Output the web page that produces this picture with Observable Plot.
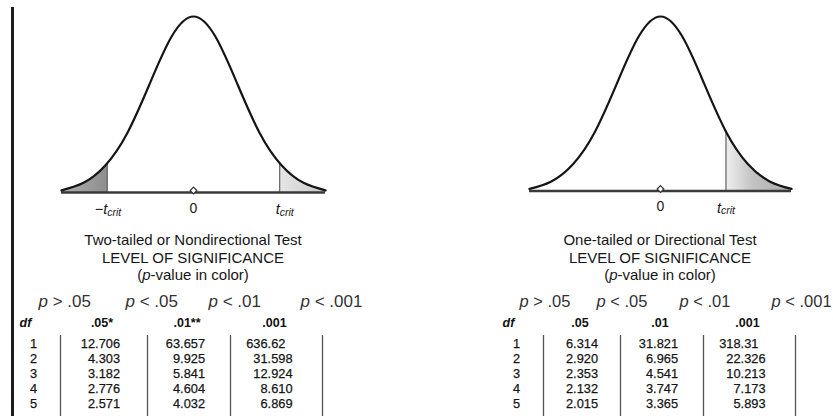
<!DOCTYPE html>
<html><head><meta charset="utf-8">
<script src="https://cdn.jsdelivr.net/npm/d3@7"></script>
<script src="https://cdn.jsdelivr.net/npm/@observablehq/plot@0.6"></script>
<style>
html,body{margin:0;padding:0;background:#fff;}
#page{position:relative;width:833px;height:416px;overflow:hidden;background:#fff;font-family:"Liberation Sans",Arial,sans-serif;}
.abs{position:absolute;}
.title{position:absolute;width:300px;text-align:center;font-size:15px;line-height:17.5px;color:#161616;}
#bar{position:absolute;left:11px;top:7px;width:3px;height:409px;background:#1c1c1c;}
</style></head><body>
<div id="page">
 <div id="bar"></div>
 <div id="curveL" class="abs" style="left:0;top:0"></div>
 <div id="curveR" class="abs" style="left:420px;top:0"></div>
 <div class="title" style="left:43px;top:231px">Two-tailed or Nondirectional Test<br>LEVEL OF SIGNIFICANCE<br>(<i>p</i>-value in color)</div>
 <div class="title" style="left:510px;top:231px">One-tailed or Directional Test<br>LEVEL OF SIGNIFICANCE<br>(<i>p</i>-value in color)</div>
 <div id="tableL" class="abs" style="left:0;top:280px"></div>
 <div id="tableR" class="abs" style="left:420px;top:280px"></div>
</div>
<script>
// ---- data ----
const curveX = [-3, -2.5, -2, -1.5, -1, -0.5, 0, 0.5, 1, 1.5, 2, 2.5, 3];
const curveH = [0.012, 0.055, 0.155, 0.34, 0.615, 0.885, 1, 0.885, 0.615, 0.34, 0.155, 0.055, 0.012];
const twoTailCut = 1.96;      // critical point as drawn
const twoTailCutH = 0.165;    // curve height at the cut
const oneTailCut = 1.5;
const oneTailCutH = 0.345;
const dfValues = [1, 2, 3, 4, 5];
const pLabels = ["> .05", "< .05", "< .01", "< .001"];
const twoTailHeads = [".05*", ".01**", ".001"];
const oneTailHeads = [".05", ".01", ".001"];
const twoTail05 = [12.706, 4.303, 3.182, 2.776, 2.571];
const twoTail01 = [63.657, 9.925, 5.841, 4.604, 4.032];
const twoTail001 = [636.62, 31.598, 12.924, 8.610, 6.869];
const oneTail05 = [6.314, 2.920, 2.353, 2.132, 2.015];
const oneTail01 = [31.821, 6.965, 4.541, 3.747, 3.365];
const oneTail001 = [318.31, 22.326, 10.213, 7.173, 5.893];

const curvePts = curveX.map((x, i) => ({x, h: curveH[i]}));
const baseFont = "'Liberation Sans',Arial,sans-serif";

function curvePlot(el, {width, marginLeft, marginRight, marginBottom, cuts, gradId, stops, labelDx}) {
  const plot = Plot.plot({
    width, height: 225, marginLeft, marginRight, marginTop: 16, marginBottom,
    x: {domain: [-3, 3], axis: null},
    y: {domain: [0, 1], axis: null},
    style: {fontFamily: baseFont, background: "transparent"},
    marks: [
      Plot.areaY(curvePts, {x: "x", y: "h", curve: "natural", fill: `url(#${gradId})`}),
      Plot.ruleX(cuts, {x: "x", y1: 0, y2: "h", stroke: "#4a4a4a", strokeWidth: 1}),
      Plot.ruleY([0], {x1: -3, x2: 3, stroke: "#3a3a3a", strokeWidth: 2.6}),
      Plot.line(curvePts, {x: "x", y: "h", curve: "natural", stroke: "#151515", strokeWidth: 2.2}),
      Plot.dot([0], {x: d => d, y: 0, symbol: "diamond2", r: 3, fill: "white", stroke: "#333", strokeWidth: 1.2, dy: -2}),
      Plot.text([0], {x: d => d, y: 0, text: d => String(d), dy: 16, fontSize: 14, fill: "#1a1a1a"}),
      Plot.text(cuts, {x: "x", y: 0, text: d => d.x < 0 ? "\u2212t" : "t", textAnchor: "end", dx: labelDx, dy: 17, fontSize: 14.5, fontStyle: "italic", fill: "#1a1a1a"}),
      Plot.text(cuts, {x: "x", y: 0, text: () => "crit", textAnchor: "start", dx: labelDx, dy: 20, fontSize: 10.5, fontStyle: "italic", fill: "#1a1a1a"})
    ]
  });
  const svg = d3.select(plot);
  const g = svg.insert("defs", ":first-child").append("linearGradient")
    .attr("id", gradId).attr("x1", 0).attr("x2", 1).attr("y1", 0).attr("y2", 0);
  stops.forEach(([o, c, a]) => g.append("stop").attr("offset", o).attr("stop-color", c).attr("stop-opacity", a));
  el.appendChild(plot);
}

const fL = (3 - twoTailCut) / 6, fR = (3 + twoTailCut) / 6, f1 = (3 + oneTailCut) / 6;
curvePlot(document.getElementById("curveL"), {
  width: 420, marginLeft: 61, marginRight: 95, marginBottom: 33,
  cuts: [{x: -twoTailCut, h: twoTailCutH}, {x: twoTailCut, h: twoTailCutH}],
  gradId: "gradL", labelDx: 0,
  stops: [[0, "#b0b0b0", 1], [fL, "#8e8e8e", 1], [fL, "#fff", 0], [fR, "#fff", 0], [fR, "#e6e6e6", 1], [1, "#c8c8c8", 1]]
});
curvePlot(document.getElementById("curveR"), {
  width: 413, marginLeft: 109, marginRight: 42, marginBottom: 34.5,
  cuts: [{x: oneTailCut, h: oneTailCutH}],
  gradId: "gradR", labelDx: -5,
  stops: [[0, "#fff", 0], [f1, "#fff", 0], [f1, "#f0f0f0", 1], [f1 + 0.1, "#c4c4c4", 1], [1, "#a9a9a9", 1]]
});

function fmt(v) { return v >= 100 ? v.toFixed(2) + "\u2007" : v.toFixed(3); }

function tablePlot(el, {width, xRange, heads, cols, pDx, pSize}) {
  const seps = [0.5, 1.5, 2.5, 3.5];
  const pRow = seps.map((s, i) => ({x: s, label: "\u00a0" + pLabels[i]}));
  const headRow = heads.map((h, i) => ({x: i + 1, label: h}));
  const cells = [];
  cols.forEach((arr, ci) => arr.forEach((v, i) => cells.push({x: ci + 1, df: dfValues[i], label: fmt(v)})));
  const numStyle = {fontSize: 12.8, fontFamily: baseFont, fill: "#151515", stroke: "#151515", strokeWidth: 0.25};
  const plot = Plot.plot({
    width, height: 136, margin: 0,
    x: {type: "linear", domain: seps, range: xRange, axis: null},
    y: {type: "linear", domain: [1, 5], range: [63, 123], axis: null},
    style: {fontFamily: baseFont, background: "transparent"},
    marks: [
      Plot.ruleX(seps, {x: d => d, y1: 0.47, y2: 6, stroke: "#555", strokeWidth: 1.3}),
      Plot.text(pRow, {x: "x", y: 1, dy: -42, dx: pDx, text: () => "p", textAnchor: "start", fontSize: pSize, fontStyle: "italic", fill: "#333"}),
      Plot.text(pRow, {x: "x", y: 1, dy: -42, dx: pDx + 0.556 * pSize, text: "label", textAnchor: "start", fontSize: pSize, fill: "#333"}),
      Plot.text(["df"], {x: 0.5, y: 1, dy: -21, dx: -35, text: d => d, fontSize: 12.5, fontWeight: "bold", fontStyle: "italic", fill: "#111"}),
      Plot.text(headRow, {x: "x", y: 1, dy: -21, dx: -2, text: "label", fontSize: 12.5, fontWeight: "bold", fill: "#111"}),
      Plot.text(dfValues, {x: 0.5, y: d => d, dx: -27, text: d => String(d), ...numStyle}),
      Plot.text(cells, {x: "x", y: "df", dx: 16, text: "label", textAnchor: "end", ...numStyle})
    ]
  });
  el.appendChild(plot);
}

tablePlot(document.getElementById("tableL"), {
  width: 420, xRange: [60, 147, 230, 322], heads: twoTailHeads, cols: [twoTail05, twoTail01, twoTail001], pDx: -22, pSize: 17
});
tablePlot(document.getElementById("tableR"), {
  width: 413, xRange: [123, 200, 283, 375], heads: oneTailHeads, cols: [oneTail05, oneTail01, oneTail001], pDx: -24, pSize: 16.5
});
</script>
</body></html>
